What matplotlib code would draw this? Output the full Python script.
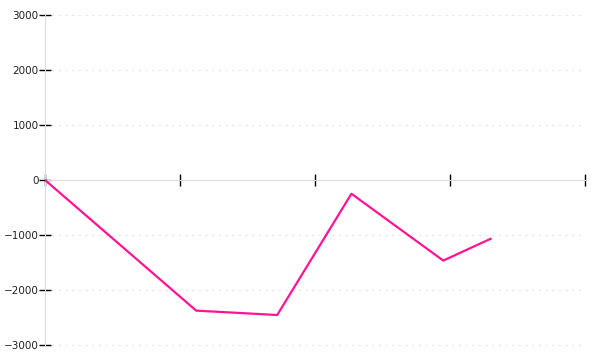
import matplotlib.pyplot as plt

# values
x = [0, 1.12, 1.72, 2.27, 2.95, 3.3]
y = [0, -2375, -2455, -250, -1465, -1070]
yticks = [-3000, -2000, -1000, 0, 1000, 2000, 3000]
xticks = [0, 1, 2, 3, 4]

fig = plt.figure(figsize=(6, 3.6), dpi=100)
ax = fig.add_axes([0.075, 15 / 360, 0.9, 330 / 360])

ax.plot(x, y, color='#ff1493', lw=1.6, zorder=3)

ax.set_xlim(0, 4)
ax.set_ylim(-3000, 3000)
ax.set_yticks(yticks)
ax.set_yticklabels(['\u22123000', '\u22122000', '\u22121000', '0', '1000', '2000', '3000'])
ax.set_xticks(xticks)
ax.set_xticklabels([])

# dotted horizontal grid
for v in yticks:
    if v != 0:
        ax.axhline(v, color='#e6e6e6', lw=0.8, ls=(0, (2, 4)), zorder=1, clip_on=False)

for s in ['top', 'right']:
    ax.spines[s].set_visible(False)
ax.spines['left'].set_color('#dddddd')
ax.spines['bottom'].set_position(('data', 0))
ax.spines['bottom'].set_color('#dddddd')
ax.spines['bottom'].set_zorder(2)

ax.tick_params(axis='y', length=9, width=1, color='black', labelsize=7.5, labelcolor='#222222', pad=0, direction='inout')
ax.tick_params(axis='x', length=8, width=1, color='black', direction='inout')

fig.savefig('out.png', dpi=100)
